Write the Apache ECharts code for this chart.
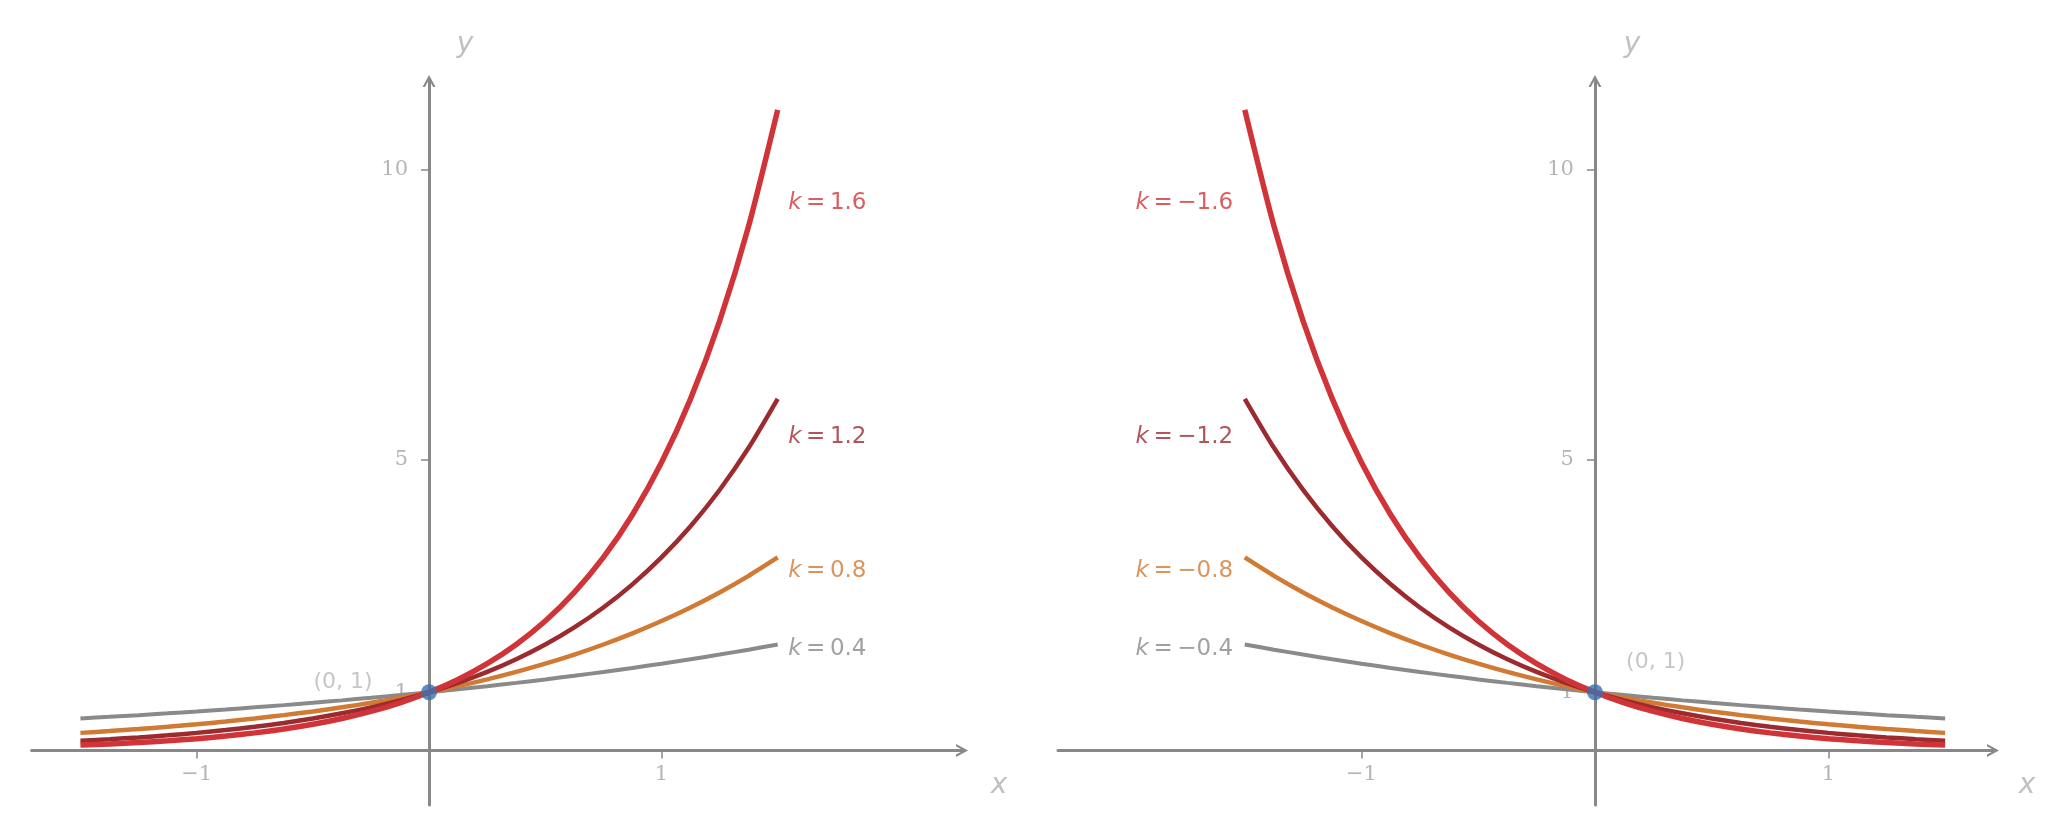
<!DOCTYPE html>
<html>
<head>
<meta charset="utf-8">
<script src="https://cdn.jsdelivr.net/npm/echarts@6/dist/echarts.min.js"></script>
<style>
  html, body { margin: 0; padding: 0; background: #fff; }
  #chart { width: 2067px; height: 833px; }
</style>
</head>
<body>
<div id="chart"></div>
<script>
// sample points of y = e^(kx)
const xLeft = [-1.5, -1.375, -1.25, -1.125, -1, -0.875, -0.75, -0.625, -0.5, -0.375, -0.25, -0.125, 0,
  0.125, 0.25, 0.375, 0.5, 0.625, 0.75, 0.875, 1, 1.125, 1.25, 1.375, 1.5];
const xRight = [1.5, 1.375, 1.25, 1.125, 1, 0.875, 0.75, 0.625, 0.5, 0.375, 0.25, 0.125, 0,
  -0.125, -0.25, -0.375, -0.5, -0.625, -0.75, -0.875, -1, -1.125, -1.25, -1.375, -1.5];

const yK04 = [0.5488, 0.5769, 0.6065, 0.6376, 0.6703, 0.7047, 0.7408, 0.7788, 0.8187, 0.8607, 0.9048, 0.9512, 1,
  1.0513, 1.1052, 1.1618, 1.2214, 1.2840, 1.3499, 1.4191, 1.4918, 1.5683, 1.6487, 1.7333, 1.8221];
const yK08 = [0.3012, 0.3329, 0.3679, 0.4066, 0.4493, 0.4966, 0.5488, 0.6065, 0.6703, 0.7408, 0.8187, 0.9048, 1,
  1.1052, 1.2214, 1.3499, 1.4918, 1.6487, 1.8221, 2.0138, 2.2255, 2.4596, 2.7183, 3.0042, 3.3201];
const yK12 = [0.1653, 0.1920, 0.2231, 0.2592, 0.3012, 0.3499, 0.4066, 0.4724, 0.5488, 0.6376, 0.7408, 0.8607, 1,
  1.1618, 1.3499, 1.5683, 1.8221, 2.1170, 2.4596, 2.8577, 3.3201, 3.8574, 4.4817, 5.2070, 6.0496];
const yK16 = [0.0907, 0.1108, 0.1353, 0.1653, 0.2019, 0.2466, 0.3012, 0.3679, 0.4493, 0.5488, 0.6703, 0.8187, 1,
  1.2214, 1.4918, 1.8221, 2.2255, 2.7183, 3.3201, 4.0552, 4.9530, 6.0496, 7.3891, 9.0250, 11.0232];

const kLeft = ["0.4", "0.8", "1.2", "1.6"];
const kRight = ["\u22120.4", "\u22120.8", "\u22121.2", "\u22121.6"];
const curveColors = ["#8a8a8a", "#d17a34", "#9c2b2f", "#d13438"];
const curveWidths = [4, 4.5, 4.5, 5.5];
const labelY = [1.75, 3.09, 5.39, 9.42];
const labelXLeft = 1.545;
const labelXRight = -1.55;

const xTicks = [-1, 1];
const yTicks = [1, 5, 10];

// axis extents
const xRangeLeft = [-1.71, 2.293];
const xRangeRight = [-2.30, 1.705];
const yRange = [-0.94, 11.52];

const chart = echarts.init(document.getElementById("chart"));

const chevron = "path://M0,12 L6.5,0 L13,12 L10.6,12 L6.5,4.4 L2.4,12 Z";
const axisGray = "#888888";
const tickText = "#b5b5b5";
const gridTop = 81, gridBottom = 28, gridH = 833 - gridTop - gridBottom;
const grids = [
  { left: 31.6, width: 930.4 },
  { left: 1058, width: 935 }
];

function makeX(idx, range) {
  // shift the axis up to y = 0
  const off = -((0 - yRange[0]) / (yRange[1] - yRange[0])) * gridH;
  return {
    type: "value", gridIndex: idx, min: range[0], max: range[1],
    position: "bottom", offset: off,
    axisLine: { show: true, onZero: false, symbol: ["none", chevron], symbolSize: [13, 12], lineStyle: { color: axisGray, width: 3 } },
    axisTick: { show: true, inside: false, length: 8, customValues: xTicks, lineStyle: { color: axisGray, width: 1.5 } },
    axisLabel: {
      show: true, customValues: xTicks, margin: 14, color: tickText, fontSize: 21, fontFamily: "DejaVu Serif",
      formatter: (v) => (v < 0 ? "\u2212" + Math.abs(v) : String(v))
    },
    splitLine: { show: false }
  };
}

function makeY(idx, xr) {
  // shift the axis right to x = 0
  const off = -((0 - xr[0]) / (xr[1] - xr[0])) * grids[idx].width;
  return {
    type: "value", gridIndex: idx, min: yRange[0], max: yRange[1],
    position: "left", offset: off,
    axisLine: { show: true, onZero: false, symbol: ["none", chevron], symbolSize: [13, 12], lineStyle: { color: axisGray, width: 3 } },
    axisTick: { show: true, inside: false, length: 8, customValues: yTicks, lineStyle: { color: axisGray, width: 1.5 } },
    axisLabel: { show: true, customValues: yTicks, margin: 21, color: tickText, fontSize: 21, fontFamily: "DejaVu Serif" },
    splitLine: { show: false }
  };
}

const yData = [yK04, yK08, yK12, yK16];
const series = [];

[0, 1].forEach((g) => {
  const xs = g === 0 ? xLeft : xRight;
  const xr = g === 0 ? xRangeLeft : xRangeRight;
  yData.forEach((ys, i) => {
    series.push({
      type: "line", xAxisIndex: g, yAxisIndex: g,
      data: xs.map((x, j) => [x, ys[j]]),
      smooth: 0.25, showSymbol: false, symbol: "none", silent: true, z: 3 + i,
      lineStyle: { color: curveColors[i], width: curveWidths[i] }
    });
  });
  const ks = g === 0 ? kLeft : kRight;
  const lx = g === 0 ? labelXLeft : labelXRight;
  series.push({
    type: "scatter", xAxisIndex: g, yAxisIndex: g, symbolSize: 0, silent: true, z: 10,
    data: ks.map((k, i) => ({
      value: [lx, labelY[i]],
      label: {
        show: true, position: [0, 0], align: g === 0 ? "left" : "right", verticalAlign: "middle",
        formatter: "{i|k}{n|\u2009=\u2009" + k + "}",
        rich: {
          i: { fontStyle: "italic", fontSize: 23, fontFamily: "DejaVu Sans", color: curveColors[i] },
          n: { fontSize: 23, fontFamily: "DejaVu Sans", color: curveColors[i] }
        }
      }
    }))
  });
  // axis names, hung on the axis ends
  series.push({
    type: "scatter", xAxisIndex: g, yAxisIndex: g, symbolSize: 0, silent: true, z: 10,
    data: [
      { value: [xr[1], 0], label: { show: true, position: [0, 0], align: "center", verticalAlign: "middle", offset: [g === 0 ? 37 : 34, 35], formatter: "x", color: "#b0b0b0", fontSize: 28, fontStyle: "italic", fontFamily: "DejaVu Sans" } },
      { value: [0, yRange[1]], label: { show: true, position: [0, 0], align: "center", verticalAlign: "middle", offset: [g === 0 ? 36 : 37, -36], formatter: "y", color: "#b0b0b0", fontSize: 28, fontStyle: "italic", fontFamily: "DejaVu Sans" } }
    ]
  });
  // point (0, 1) and its label
  series.push({
    type: "scatter", xAxisIndex: g, yAxisIndex: g, silent: true, z: 12,
    symbolSize: 16, itemStyle: { color: "#3a6fae" },
    data: [[0, 1]]
  });
  series.push({
    type: "scatter", xAxisIndex: g, yAxisIndex: g, silent: true, z: 12, symbolSize: 0,
    data: [{
      value: g === 0 ? [-0.37, 1.18] : [0.26, 1.52],
      label: { show: true, position: [0, 0], align: "center", verticalAlign: "middle", formatter: "(0, 1)", color: "#b8b8b8", fontSize: 22, fontFamily: "DejaVu Sans" }
    }]
  });
});

chart.setOption({
  animation: false,
  backgroundColor: "#ffffff",
  grid: grids.map((gr) => ({ left: gr.left, width: gr.width, top: gridTop, bottom: gridBottom, outerBoundsMode: "none", containLabel: false })),
  xAxis: [makeX(0, xRangeLeft), makeX(1, xRangeRight)],
  yAxis: [makeY(0, xRangeLeft), makeY(1, xRangeRight)],
  series: series
});
</script>
</body>
</html>
